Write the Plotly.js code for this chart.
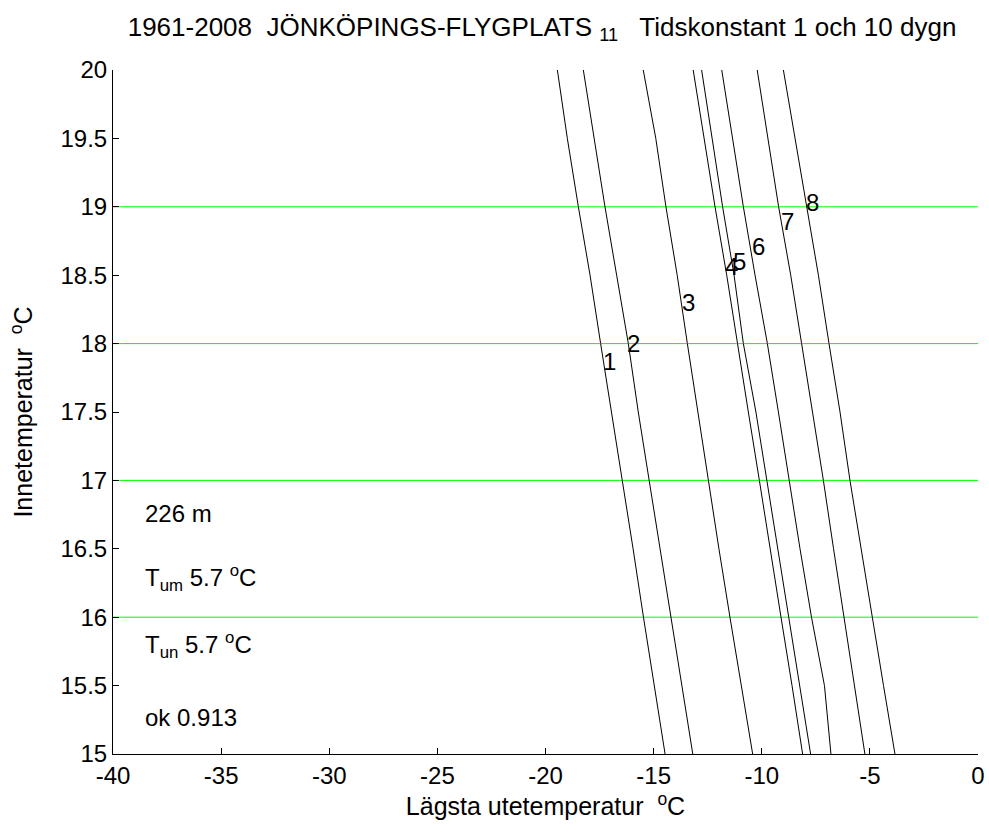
<!DOCTYPE html>
<html>
<head>
<meta charset="utf-8">
<script src="https://cdn.plot.ly/plotly-3.0.1.min.js"></script>
<style>body{margin:0;padding:0;background:#fff}#chart{width:989px;height:832px}</style>
</head>
<body>
<div id="chart"></div>
<script>
// Inne temperature levels (y) at which each curve is sampled
const innetemp = [20, 19.5, 19, 18.5, 18, 17.5, 17, 16.5, 16, 15.5, 15];
// Lowest outdoor temperature (x) per curve
const curve1 = [-19.45, -18.99, -18.48, -17.94, -17.45, -16.94, -16.43, -15.95, -15.47, -14.98, -14.47];
const curve2 = [-18.25, -17.76, -17.25, -16.71, -16.17, -15.71, -15.20, -14.70, -14.20, -13.69, -13.19];
const curve3 = [-15.48, -14.90, -14.43, -13.91, -13.44, -12.96, -12.47, -11.98, -11.47, -10.94, -10.42];
const curve4 = [-13.17, -12.67, -12.16, -11.62, -11.13, -10.62, -10.11, -9.62, -9.11, -8.60, -8.11];
const curve5 = [-12.78, -12.29, -11.81, -11.28, -10.85, -10.27, -9.77, -9.27, -8.76, -8.25, -7.74];
const curve6 = [-11.85, -11.36, -10.85, -10.31, -9.74, -9.23, -8.74, -8.23, -7.70, -7.10, -6.80];
const curve7 = [-10.21, -9.70, -9.22, -8.66, -8.15, -7.64, -7.15, -6.68, -6.20, -5.71, -5.23];
const curve8 = [-9.00, -8.46, -7.93, -7.38, -6.89, -6.38, -5.92, -5.41, -4.90, -4.37, -3.84];
const curves = [curve1, curve2, curve3, curve4, curve5, curve6, curve7, curve8];

// Curve number labels
const labelText = ['1', '2', '3', '4', '5', '6', '7', '8'];
const labelX = [-17.02, -15.91, -13.40, -11.39, -11.04, -10.16, -8.82, -7.66];
const labelY = [17.87, 18.00, 18.30, 18.56, 18.60, 18.71, 18.89, 19.03];

// Green reference levels
const refLevels = [16, 17, 18, 19];

// Info text block
const infoText = ['226 m', 'T<sub>um</sub> 5.7 <sup>o</sup>C', 'T<sub>un</sub> 5.7 <sup>o</sup>C', 'ok 0.913'];
const infoY = [16.76, 16.29, 15.80, 15.27];
const infoX = -38.62;

const xTicks = [-40, -35, -30, -25, -20, -15, -10, -5, 0];
const yTicks = [15, 15.5, 16, 16.5, 17, 17.5, 18, 18.5, 19, 19.5, 20];

const FONT = 'Liberation Sans, Arial, sans-serif';
const FS = 24;

const traces = [];
refLevels.forEach(v => {
  traces.push({x: [-40, 0], y: [v, v], mode: 'lines', line: {color: '#00ff00', width: 1}, hoverinfo: 'skip', showlegend: false});
});
curves.forEach(c => {
  traces.push({x: c, y: innetemp, mode: 'lines', line: {color: '#000000', width: 1}, showlegend: false});
});

const annotations = [];
labelText.forEach((t, i) => {
  annotations.push({x: labelX[i], y: labelY[i], xref: 'x', yref: 'y', text: t, showarrow: false,
    font: {family: FONT, size: FS, color: '#000'}, xanchor: 'center', yanchor: 'middle'});
});
infoText.forEach((t, i) => {
  annotations.push({x: infoX, y: infoY[i], xref: 'x', yref: 'y', text: t, showarrow: false,
    font: {family: FONT, size: FS, color: '#000'}, xanchor: 'left', yanchor: 'middle'});
});

const layout = {
  width: 989, height: 832,
  margin: {l: 113, r: 11, t: 70, b: 78},
  paper_bgcolor: '#ffffff', plot_bgcolor: '#ffffff',
  showlegend: false,
  title: {text: '1961-2008  JÖNKÖPINGS-FLYGPLATS <sub>11</sub>   Tidskonstant 1 och 10 dygn',
    font: {family: FONT, size: 26, color: '#000'}, x: 0.496, xanchor: 'center', y: 0.968, yanchor: 'middle', xref: 'paper'},
  xaxis: {range: [-40, 0], tickvals: xTicks, ticktext: xTicks.map(String), ticks: 'inside', ticklen: 6,
    tickcolor: '#000', showline: true, linecolor: '#000', linewidth: 1, showgrid: false, zeroline: false,
    mirror: false, tickfont: {family: FONT, size: FS, color: '#000'},
    title: {text: 'Lägsta utetemperatur  <sup>o</sup>C', font: {family: FONT, size: 25, color: '#000'}, standoff: 8}},
  yaxis: {range: [15, 20], tickvals: yTicks, ticktext: yTicks.map(String), ticks: 'inside', ticklen: 6,
    tickcolor: '#000', showline: true, linecolor: '#000', linewidth: 1, showgrid: false, zeroline: false,
    mirror: false, tickfont: {family: FONT, size: FS, color: '#000'},
    title: {text: 'Innetemperatur  <sup>o</sup>C', font: {family: FONT, size: 25, color: '#000'}, standoff: 20}},
  annotations: annotations
};

Plotly.newPlot('chart', traces, layout, {displayModeBar: false, staticPlot: true});
</script>
</body>
</html>
